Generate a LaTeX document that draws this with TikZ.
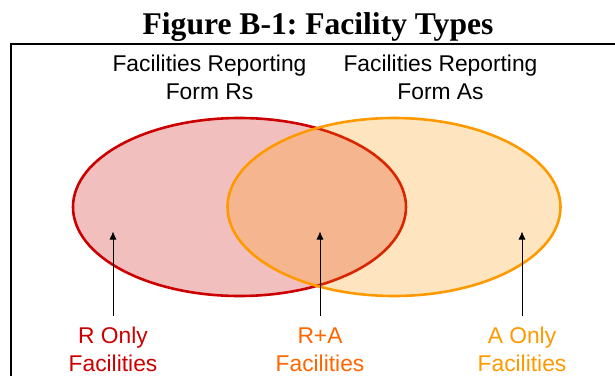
\documentclass[tikz,border=0pt]{standalone}
\usepackage{fontspec}
\setmainfont{Liberation Sans}
\newfontfamily\titlefont{Liberation Serif}
\usetikzlibrary{arrows.meta}
\frenchspacing
\definecolor{rline}{HTML}{CC0000}
\definecolor{oline}{HTML}{FF9900}
\definecolor{ratext}{HTML}{FF6600}
\tikzset{
  frame/.style={line width=2pt, line cap=rect},
  setR/.style={fill=rline, fill opacity=0.25, draw=rline, line width=2.6pt},
  setA/.style={fill=oline, fill opacity=0.25, draw=oline, line width=2.6pt},
  header/.style={inner sep=0pt, anchor=base, font=\fontsize{22.8}{28}\selectfont},
  lab/.style={inner sep=0pt, anchor=base, font=\fontsize{22.8}{28}\selectfont},
  pointer/.style={line width=0.8pt, -{Latex[length=8pt,width=7pt]}, shorten <=7.5pt},
}
\begin{document}
\begin{tikzpicture}[x=1pt,y=-1pt]
\useasboundingbox (0,0) rectangle (615,375);
% title
\node[inner sep=0pt, anchor=base, font=\titlefont\bfseries\fontsize{31.6}{36}\selectfont] (title) at (318,34) {Figure B-1: Facility Types};
% frame
\draw[frame] (11,380) -- (11,44) -- (616,44);
% sets
\draw[setR] (239.5,207) ellipse [x radius=166.5, y radius=89];
\draw[setA] (394,207) ellipse [x radius=166.5, y radius=89];
% headers
\node[header] (hR) at (209.5,71) {\begin{tabular}[t]{@{}c@{}}Facilities Reporting\\Form Rs\end{tabular}};
\node[header] (hA) at (440.5,71) {\begin{tabular}[t]{@{}c@{}}Facilities Reporting\\Form As\end{tabular}};
% labels
\node[lab, text=rline] (lR) at (113,343) {\begin{tabular}[t]{@{}c@{}}R Only\\Facilities\end{tabular}};
\node[lab, text=ratext] (lRA) at (320,343) {\begin{tabular}[t]{@{}c@{}}R+A\\Facilities\end{tabular}};
\node[lab, text=oline] (lA) at (522,343) {\begin{tabular}[t]{@{}c@{}}A Only\\Facilities\end{tabular}};
% pointer tips
\coordinate (tR) at (113,231.5);
\coordinate (tRA) at (320,231.5);
\coordinate (tA) at (522,231.5);
\draw[pointer] (lR.north) -- (tR);
\draw[pointer] (lRA.north) -- (tRA);
\draw[pointer] (lA.north) -- (tA);
\end{tikzpicture}
\end{document}
